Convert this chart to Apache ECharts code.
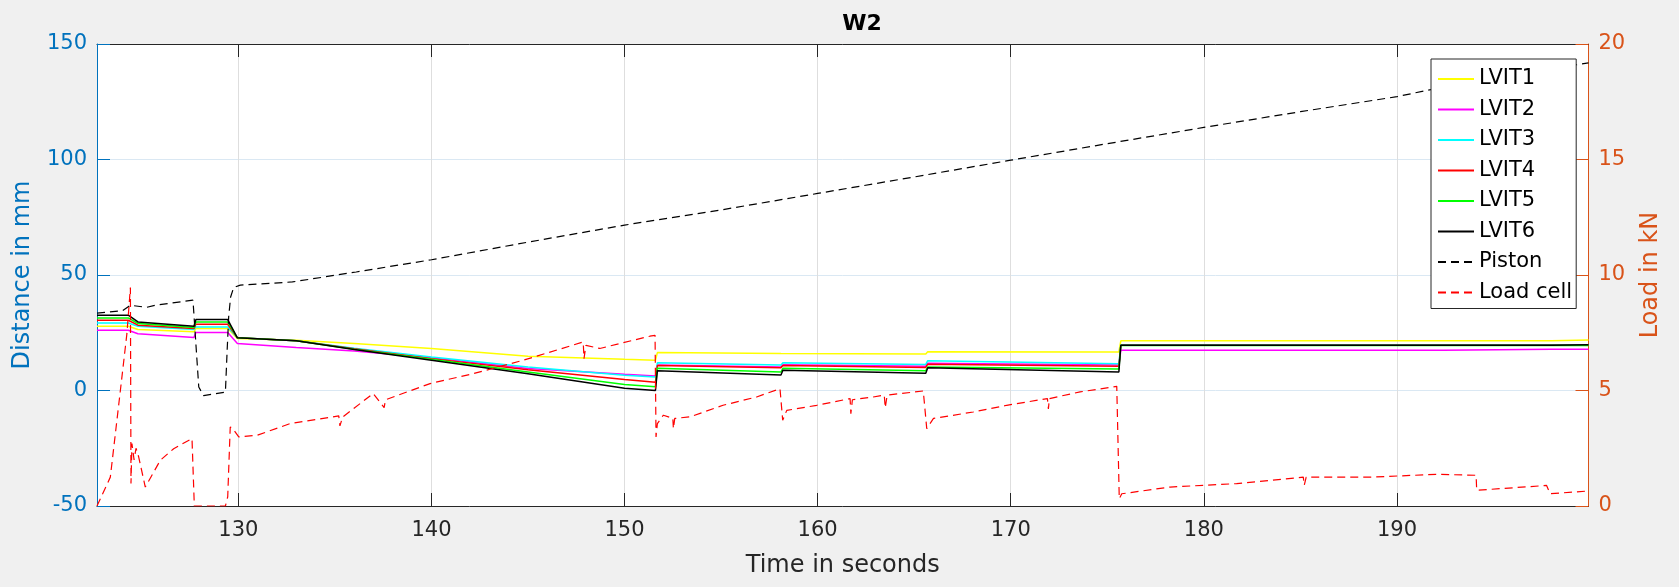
<!DOCTYPE html>
<html>
<head>
<meta charset="utf-8">
<title>W2</title>
<script src="https://cdn.jsdelivr.net/npm/echarts@6/dist/echarts.min.js"></script>
<style>
  html, body { margin: 0; padding: 0; background: #f0f0f0; }
  #chart { width: 1679px; height: 587px; }
</style>
</head>
<body>
<div id="chart"></div>
<script>
// x axis ticks (seconds)
const timeTicks = [130, 140, 150, 160, 170, 180, 190];

// LVIT readings share one time base (close pairs of times give the steps)
const lvitTime = [122.68, 124.3, 124.8, 127.7, 127.8, 129.45, 129.95, 133, 136, 140, 145, 150, 151.6, 151.7,
  158.1, 158.2, 165.6, 165.7, 175.6, 175.7, 192.4, 192.5, 198.0, 198.1, 199.92];
const lvit1 = [27.8, 27.8, 26.4, 25.4, 26.8, 26.8, 22.5, 21.8, 20.3, 18.2, 14.8, 13.5, 13.1, 16.4,
  16.0, 16.4, 15.8, 16.8, 16.7, 21.5, 21.5, 21.5, 21.5, 21.9, 21.9];
const lvit2 = [26.1, 26.1, 24.6, 22.9, 25.1, 25.1, 20.3, 18.6, 17.1, 14.2, 9.5, 7.0, 6.3, 11.0,
  10.2, 11.2, 10.5, 11.8, 11.0, 17.4, 17.4, 17.9, 17.9, 17.9, 17.9];
const lvit3 = [29.2, 29.2, 27.8, 26.4, 27.5, 27.5, 22.8, 21.5, 18.3, 14.5, 10.2, 6.6, 5.8, 12.0,
  11.0, 12.0, 11.3, 12.9, 11.6, 19.8, 19.8, 19.8, 19.8, 19.8, 19.8];
const lvit4 = [30.4, 30.4, 28.3, 26.8, 28.7, 28.7, 22.8, 21.5, 18.1, 13.8, 9.0, 4.8, 3.6, 10.8,
  9.9, 10.8, 10.0, 11.4, 10.5, 19.6, 19.6, 19.6, 19.6, 19.6, 19.6];
const lvit5 = [31.4, 31.4, 29.0, 27.3, 29.7, 29.7, 22.8, 21.5, 17.9, 13.5, 8.0, 2.6, 1.6, 9.6,
  8.0, 9.6, 8.5, 10.2, 9.3, 19.5, 19.5, 19.5, 19.5, 19.5, 19.5];
const lvit6 = [32.6, 32.6, 29.7, 27.8, 30.7, 30.7, 22.8, 21.5, 17.7, 13.1, 7.3, 1.0, 0, 8.6,
  6.7, 8.8, 7.5, 9.9, 8.0, 19.6, 19.6, 19.6, 19.6, 19.8, 19.8];

// piston displacement (mm)
const pistonTime = [122.68, 124.0, 124.4, 125.25, 125.7, 127.65, 127.95, 128.2, 129.33, 129.42, 129.5, 129.6,
  129.76, 130.1, 132.8, 136.1, 140, 145.05, 150, 154.95, 160, 165.04, 170, 174.9, 180, 185, 190, 191.6,
  199.2, 199.92];
const pistonMm = [33.5, 34.5, 36.9, 36.0, 36.9, 39.1, 1.5, -2.2, -0.7, 17.4, 32, 40.5,
  44.6, 45.6, 47.0, 51.3, 56.6, 64.3, 71.6, 78.1, 85.3, 92.5, 99.7, 106.7, 113.9, 120.7, 127.2, 130.0,
  140.9, 141.8];

// load cell (kN, right axis)
const loadTime = [122.68, 123.37, 123.89, 124.23, 124.41, 124.44, 124.49, 124.6, 124.7, 124.84, 125.18, 125.96,
  126.65, 127.6, 127.72, 129.33, 129.45, 129.58, 129.7, 130.02, 130.97, 132.69, 135.2, 135.26, 135.4, 136.98,
  137.55, 137.62, 139.93, 142.17, 144.75, 147.86, 147.9, 148.0, 148.72, 151.31, 151.58, 151.63, 151.7, 152.01,
  152.5, 152.53, 152.6, 153.39, 155.1, 156.84, 158.05, 158.19, 158.4, 159.95, 161.68, 161.72, 161.8, 162.88,
  163.45, 163.5, 163.6, 165.47, 165.65, 166.0, 168.06, 169.79, 171.9, 171.95, 172.0, 173.59, 175.49, 175.62,
  175.75, 178.25, 181.7, 185.15, 185.2, 185.3, 188.6, 192.06, 194.1, 194.13, 197.75, 197.93, 199.92];
const loadKN = [0, 1.25, 5.0, 7.47, 9.46, 0.97, 2.7, 2.0, 2.5, 2.12, 0.82, 1.98,
  2.48, 2.92, 0, 0, 0.4, 3.42, 3.36, 2.99, 3.06, 3.57, 3.9, 3.47, 3.85, 4.87,
  4.26, 4.6, 5.3, 5.73, 6.31, 7.1, 6.38, 6.95, 6.82, 7.35, 7.39, 2.99, 3.57, 3.93,
  3.8, 3.35, 3.79, 3.86, 4.36, 4.72, 5.08, 3.71, 4.14, 4.36, 4.65, 4.0, 4.6, 4.72,
  4.8, 4.25, 4.8, 4.98, 3.35, 3.79, 4.07, 4.36, 4.65, 4.2, 4.65, 4.94, 5.18, 0.32,
  0.53, 0.82, 0.97, 1.25, 0.9, 1.25, 1.25, 1.37, 1.33, 0.68, 0.89, 0.53, 0.65];

const zip = (xs, ys) => xs.map((x, i) => [x, ys[i]]);

const FONT = 'DejaVu Sans';
const BLUE = '#0072BD';
const ORANGE = '#D95319';
const DARK = '#262626';

const lvitSeries = [
  ['LVIT1', lvit1, '#FFFF00'],
  ['LVIT2', lvit2, '#FF00FF'],
  ['LVIT3', lvit3, '#00FFFF'],
  ['LVIT4', lvit4, '#FF0000'],
  ['LVIT5', lvit5, '#00FF00'],
  ['LVIT6', lvit6, '#000000']
].map(([name, vals, color]) => ({
  name,
  type: 'line',
  data: zip(lvitTime, vals),
  symbol: 'none',
  color,
  lineStyle: { color, width: 1.5 },
  yAxisIndex: 0
}));

const option = {
  animation: false,
  backgroundColor: '#f0f0f0',
  title: {
    text: 'W2',
    left: 862,
    top: 13,
    padding: 0,
    textAlign: 'center',
    textStyle: { fontFamily: FONT, fontSize: 22, fontWeight: 'bold', color: '#000' }
  },
  legend: {
    orient: 'vertical',
    left: 1431,
    top: 59,
    padding: [9, 4, 5, 6],
    itemWidth: 36,
    itemHeight: 8,
    itemGap: 8.5,
    itemStyle: { opacity: 0 },
    backgroundColor: '#fff',
    borderColor: DARK,
    borderWidth: 1,
    borderRadius: 0,
    textStyle: { fontFamily: FONT, fontSize: 21, color: '#000', lineHeight: 22 },
    data: ['LVIT1', 'LVIT2', 'LVIT3', 'LVIT4', 'LVIT5', 'LVIT6', 'Piston', 'Load cell']
  },
  grid: {
    left: 97,
    right: 90.5,
    top: 44,
    bottom: 81,
    show: true,
    backgroundColor: '#fff',
    borderWidth: 0
  },
  xAxis: [
    {
      type: 'value',
      min: 122.68,
      max: 199.92,
      name: 'Time in seconds',
      nameLocation: 'middle',
      nameGap: 48,
      nameTextStyle: { fontFamily: FONT, fontSize: 24, color: DARK },
      axisLine: { onZero: false, lineStyle: { color: DARK, width: 1 } },
      axisTick: { inside: true, length: 13, customValues: timeTicks, lineStyle: { color: DARK } },
      axisLabel: { customValues: timeTicks, margin: 14, fontFamily: FONT, fontSize: 21, color: DARK },
      splitLine: { show: true, lineStyle: { color: '#dedede', width: 1 } }
    },
    {
      type: 'value',
      position: 'top',
      min: 122.68,
      max: 199.92,
      axisLine: { show: true, onZero: false, lineStyle: { color: DARK, width: 1 } },
      axisTick: { inside: true, length: 13, customValues: timeTicks, lineStyle: { color: DARK } },
      axisLabel: { show: false },
      splitLine: { show: false }
    }
  ],
  yAxis: [
    {
      type: 'value',
      position: 'left',
      min: -50,
      max: 150,
      interval: 50,
      name: 'Distance in mm',
      nameLocation: 'middle',
      nameRotate: 90,
      nameGap: 62,
      nameTextStyle: { fontFamily: FONT, fontSize: 24, color: BLUE },
      axisLine: { show: true, onZero: false, lineStyle: { color: BLUE, width: 1 } },
      axisTick: { show: true, inside: true, length: 13, lineStyle: { color: BLUE } },
      axisLabel: { margin: 10, fontFamily: FONT, fontSize: 21, color: BLUE },
      splitLine: { show: true, lineStyle: { color: '#dae8f3', width: 1 } }
    },
    {
      type: 'value',
      position: 'right',
      min: 0,
      max: 20,
      interval: 5,
      name: 'Load in kN',
      nameLocation: 'middle',
      nameRotate: 90,
      nameGap: 50,
      nameTextStyle: { fontFamily: FONT, fontSize: 24, color: ORANGE },
      axisLine: { show: true, onZero: false, lineStyle: { color: ORANGE, width: 1 } },
      axisTick: { show: true, inside: true, length: 13, lineStyle: { color: ORANGE } },
      axisLabel: { margin: 10, fontFamily: FONT, fontSize: 21, color: ORANGE },
      splitLine: { show: false }
    }
  ],
  series: [
    ...lvitSeries,
    {
      name: 'Piston',
      type: 'line',
      data: zip(pistonTime, pistonMm),
      symbol: 'none',
      color: '#000000',
      lineStyle: { color: '#000000', width: 1.2, type: [8, 5] },
      yAxisIndex: 0
    },
    {
      name: 'Load cell',
      type: 'line',
      data: zip(loadTime, loadKN),
      symbol: 'none',
      color: '#FF0000',
      lineStyle: { color: '#FF0000', width: 1.2, type: [8, 5] },
      yAxisIndex: 1
    }
  ]
};

const myChart = echarts.init(document.getElementById('chart'));
myChart.setOption(option);
</script>
</body>
</html>
